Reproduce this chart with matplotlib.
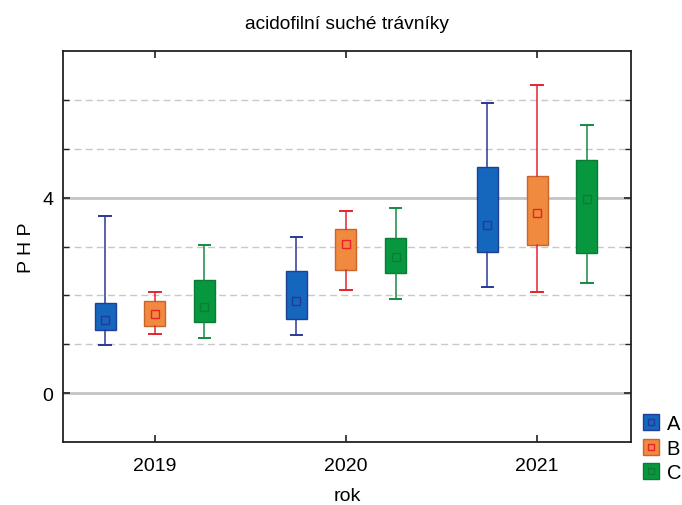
import matplotlib
matplotlib.use("Agg")
import matplotlib.pyplot as plt
from matplotlib.lines import Line2D
from matplotlib.legend_handler import HandlerTuple

plt.rcParams['font.family'] = ['Liberation Sans', 'DejaVu Sans']

years = ["2019", "2020", "2021"]
groups = ["A", "B", "C"]

# per group, one value per year
whis_lo = {"A": [0.99, 1.18, 2.17], "B": [1.21, 2.11, 2.07], "C": [1.12, 1.93, 2.26]}
q1 = {"A": [1.29, 1.52, 2.89], "B": [1.37, 2.52, 3.03], "C": [1.46, 2.45, 2.86]}
means = {"A": [1.50, 1.89, 3.45], "B": [1.61, 3.06, 3.69], "C": [1.77, 2.78, 3.98]}
q3 = {"A": [1.84, 2.49, 4.62], "B": [1.88, 3.36, 4.44], "C": [2.31, 3.18, 4.77]}
whis_hi = {"A": [3.62, 3.19, 5.93], "B": [2.08, 3.73, 6.30], "C": [3.04, 3.78, 5.48]}

fill = {"A": "#1566BD", "B": "#EF8A3E", "C": "#07983F"}
edge = {"A": "#1F3F95", "B": "#C8652C", "C": "#0A7A36"}
whisk = {"A": "#28389A", "B": "#E8232B", "C": "#168A42"}
mark = {"A": "#28389A", "B": "#E8232B", "C": "#0E7A38"}
offsets = {"A": -0.26, "B": 0.0, "C": 0.26}

fig = plt.figure(figsize=(6.82, 5.06), dpi=100)
ax = fig.add_axes([0.0924, 0.1245, 0.8326, 0.7725])

# grid: solid at major ticks, dashed at minor
for y in [1, 2, 3, 5, 6]:
    ax.axhline(y, color="#c8c8c8", lw=1.0, ls=(0, (5, 3)), zorder=0)
for y in [0, 4]:
    ax.axhline(y, color="#c4c4c4", lw=2.0, zorder=0)

handles = []
for g in groups:
    stats = []
    for i in range(len(years)):
        stats.append(dict(whislo=whis_lo[g][i], q1=q1[g][i], med=means[g][i],
                          q3=q3[g][i], whishi=whis_hi[g][i], mean=means[g][i]))
    pos = [i + 1 + offsets[g] for i in range(len(years))]
    ax.bxp(stats, positions=pos, widths=0.11, capwidths=0.06, patch_artist=True,
           showmeans=True, showfliers=False, manage_ticks=False,
           boxprops=dict(facecolor=fill[g], edgecolor=edge[g], lw=1.0),
           whiskerprops=dict(color=whisk[g], lw=1.1),
           capprops=dict(color=whisk[g], lw=1.4),
           medianprops=dict(lw=0),
           meanprops=dict(marker="s", markersize=6, markerfacecolor="none",
                          markeredgecolor=mark[g], markeredgewidth=1.0))
    handles.append((Line2D([], [], ls="", marker="s", markersize=12,
                           markerfacecolor=fill[g], markeredgecolor=edge[g]),
                    Line2D([], [], ls="", marker="s", markersize=5,
                           markerfacecolor="none", markeredgecolor=mark[g])))

ax.set_xlim(0.52, 3.49)
ax.set_ylim(-1, 7)
ax.set_xticks([1, 2, 3])
ax.set_xticklabels(years)
ax.set_yticks([0, 4])
ax.set_yticks([1, 2, 3, 5, 6], minor=True)
ax.tick_params(axis="both", which="both", direction="in", labelsize=14,
               top=True, right=True, length=5, width=1.2, color="#222222")
ax.tick_params(axis="x", pad=11)
ax.tick_params(axis="y", pad=7)
ax.tick_params(axis="y", which="minor", length=4, width=1.0)
for s in ax.spines.values():
    s.set_linewidth(1.3)
    s.set_color("#222222")

ax.set_title("acidofilní suché trávníky", fontsize=13.8, pad=17)
ax.set_xlabel("rok", fontsize=14, labelpad=9)
ax.set_ylabel("P H P", fontsize=14, labelpad=5)

fig.legend(handles, groups, handler_map={tuple: HandlerTuple(ndivide=1)},
           loc="lower left", bbox_to_anchor=(0.935, 0.037), frameon=False,
           fontsize=14.5, handlelength=0.9, handletextpad=0.35, labelspacing=0.28,
           borderpad=0.2, borderaxespad=0)

fig.savefig("out.png", dpi=100)
